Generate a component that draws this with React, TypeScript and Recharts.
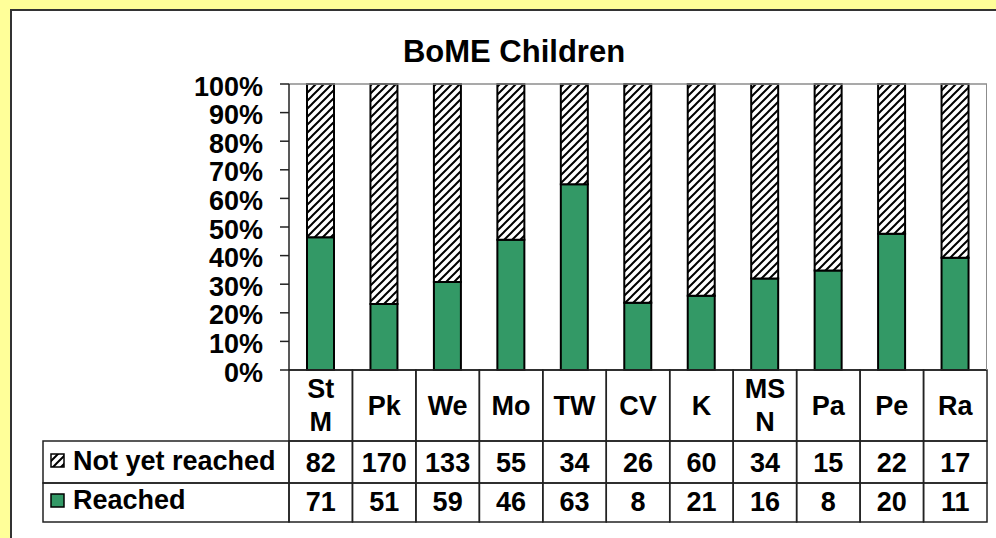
import { Bar, BarChart, ReferenceLine, XAxis, YAxis } from "recharts";

const categories = ["St M", "Pk", "We", "Mo", "TW", "CV", "K", "MS N", "Pa", "Pe", "Ra"];
const notYetReached = [82, 170, 133, 55, 34, 26, 60, 34, 15, 22, 17];
const reached = [71, 51, 59, 46, 63, 8, 21, 16, 8, 20, 11];
const yTicks = [0, 0.1, 0.2, 0.3, 0.4, 0.5, 0.6, 0.7, 0.8, 0.9, 1];

const rows = categories.map((name, i) => ({
  name,
  reached: reached[i],
  notYet: notYetReached[i],
}));

const colors = {
  page: "#ffff99",
  green: "#339966",
  line: "#222222",
  frame: "#8c8c8c",
};

const W = 996;
const H = 538;
const plotLeft = 289;
const plotRight = 987;
const plotTop = 84;
const plotBottom = 370;
const colW = (plotRight - plotLeft) / categories.length;
const font = { fontSize: 27, fontWeight: 700, fill: "#000" };

function TableTick(props: any) {
  const { x, index } = props;
  const top = plotBottom;
  const left = x - colW / 2;
  const name = categories[index];
  const lines = name.split(" ");
  return (
    <g>
      <rect x={left} y={top} width={colW} height={71} fill="none" stroke={colors.line} strokeWidth={1.5} />
      <rect x={left} y={top + 71} width={colW} height={42} fill="none" stroke={colors.line} strokeWidth={1.5} />
      <rect x={left} y={top + 113} width={colW} height={39} fill="none" stroke={colors.line} strokeWidth={1.5} />
      {lines.length === 1 ? (
        <text x={x} y={top + 45} textAnchor="middle" {...font}>
          {name}
        </text>
      ) : (
        lines.map((ln, k) => (
          <text key={k} x={x} y={top + 28 + k * 33} textAnchor="middle" {...font}>
            {ln}
          </text>
        ))
      )}
      <text x={x} y={top + 102} textAnchor="middle" {...font}>
        {notYetReached[index]}
      </text>
      <text x={x} y={top + 141} textAnchor="middle" {...font}>
        {reached[index]}
      </text>
      {index === 0 && (
        <g>
          <rect x={43} y={top + 71} width={left - 43} height={42} fill="none" stroke={colors.line} strokeWidth={1.5} />
          <rect x={43} y={top + 113} width={left - 43} height={39} fill="none" stroke={colors.line} strokeWidth={1.5} />
          <rect x={51} y={top + 84} width={13} height={13} fill="url(#hatch)" stroke="#000" strokeWidth={1.5} />
          <text x={73} y={top + 100} {...font}>
            Not yet reached
          </text>
          <rect x={51} y={top + 124} width={13} height={13} fill={colors.green} stroke="#000" strokeWidth={1.5} />
          <text x={73} y={top + 139} {...font}>
            Reached
          </text>
        </g>
      )}
    </g>
  );
}

export default function App() {
  return (
    <div
      style={{
        position: "absolute",
        left: 0,
        top: 0,
        width: W,
        height: H,
        overflow: "hidden",
        background: colors.page,
        fontFamily: "Arial, 'Liberation Sans', sans-serif",
      }}
    >
      <div
        style={{
          position: "absolute",
          left: 10,
          top: 9,
          width: 1000,
          height: 540,
          background: "#fff",
          border: "2px solid #333",
        }}
      />
      <div
        style={{
          position: "absolute",
          left: 314,
          top: 36,
          width: 400,
          textAlign: "center",
          fontSize: 31,
          lineHeight: "31px",
          fontWeight: 700,
          color: "#000",
        }}
      >
        BoME Children
      </div>
      <div style={{ position: "absolute", left: 0, top: 0 }}>
        <BarChart
          width={W}
          height={H}
          data={rows}
          stackOffset="expand"
          barSize={27}
          margin={{ top: plotTop, right: W - plotRight, left: 0, bottom: 0 }}
        >
          <defs>
            <pattern id="hatch" patternUnits="userSpaceOnUse" width={8} height={8}>
              <rect width={8} height={8} fill="#fff" />
              <path d="M-2,2 l4,-4 M0,8 l8,-8 M6,10 l4,-4" stroke="#000" strokeWidth={2} />
            </pattern>
          </defs>
          <XAxis
            dataKey="name"
            interval={0}
            height={H - plotBottom}
            tickSize={0}
            tickMargin={0}
            axisLine={{ stroke: colors.line, strokeWidth: 1.5 }}
            tick={<TableTick />}
          />
          <YAxis
            width={plotLeft}
            domain={[0, 1]}
            ticks={yTicks}
            interval={0}
            tickSize={9}
            tickMargin={17}
            axisLine={{ stroke: colors.line, strokeWidth: 1.5 }}
            tickLine={{ stroke: colors.line, strokeWidth: 1.5 }}
            tick={{ ...font, dy: 2 }}
            tickFormatter={(v: number) => `${Math.round(v * 100)}%`}
          />
          <ReferenceLine y={1} stroke={colors.frame} strokeWidth={1.5} />
          <Bar dataKey="reached" stackId="a" fill={colors.green} stroke="#000" strokeWidth={2} isAnimationActive={false} />
          <Bar dataKey="notYet" stackId="a" fill="url(#hatch)" stroke="#000" strokeWidth={2} isAnimationActive={false} />
        </BarChart>
      </div>
      <div
        style={{
          position: "absolute",
          left: plotRight - 1,
          top: plotTop,
          width: 0,
          height: plotBottom - plotTop,
          borderLeft: `1.5px solid ${colors.frame}`,
          pointerEvents: "none",
        }}
      />
    </div>
  );
}
